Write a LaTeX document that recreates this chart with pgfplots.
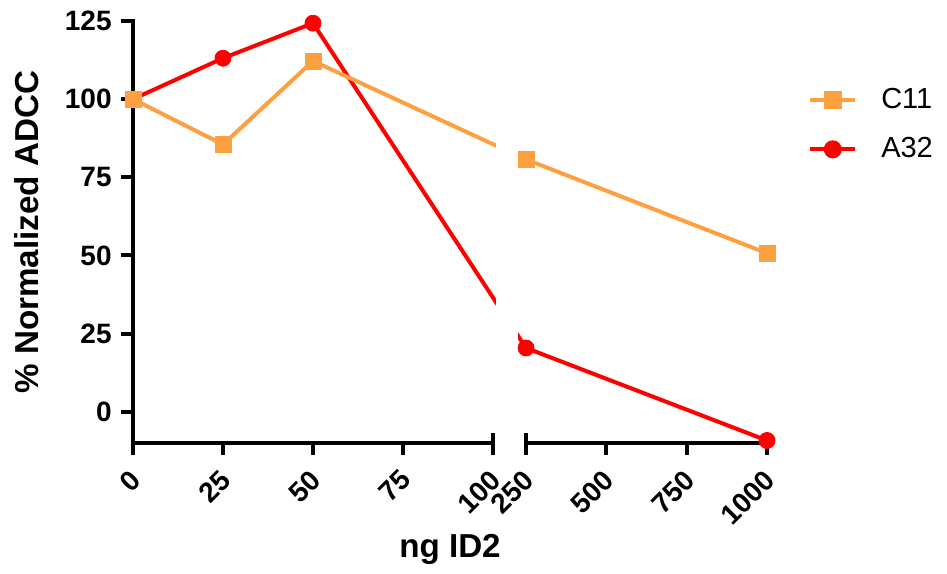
\documentclass[border=0pt]{standalone}
\usepackage{pgfplots}
\pgfplotsset{compat=1.18}
\usepackage{fontspec}
\setmainfont{Liberation Sans}
\definecolor{corange}{RGB}{255,160,64}
\definecolor{cred}{RGB}{255,0,0}
\begin{document}
\begin{tikzpicture}
\useasboundingbox (-66.5pt,-65pt) rectangle (407pt,221.5pt);
\begin{axis}[
  at={(0,0)}, anchor=south west,
  scale only axis, width=317pt, height=211pt,
  xmin=0, xmax=176.1, ymin=-10, ymax=125,
  clip=false,
  axis x line*=bottom, axis y line*=left,
  axis line style={draw=none},
  xtick={0,25,50,75,100,109.17,131.48,153.79,176.1},
  xticklabels={0,25,50,75,100,250,500,750,1000},
  ytick={0,25,50,75,100,125},
  tick align=outside,
  major tick length=6pt,
  tick style={line width=2pt, black},
  /pgf/number format/assume math mode=true,
  ticklabel style={font=\fontsize{14}{16}\selectfont\bfseries},
  xticklabel style={rotate=45, anchor=north east, inner xsep=6pt, inner ysep=3pt},
  yticklabel style={inner sep=4.5pt},
  xlabel={ng ID2},
  ylabel={\% Normalized ADCC},
  label style={font=\fontsize{16.6}{18}\selectfont\bfseries},
  xlabel style={at={(axis description cs:0.5,-0.251)}, anchor=center},
  ylabel style={at={(axis description cs:-0.168,0.5)}, anchor=center},
  legend style={draw=none, fill=none, at={(1.055,0.86)}, anchor=north west,
    font=\fontsize{14.5}{16}\selectfont, row sep=9pt, column sep=7pt,
    nodes={inner xsep=5pt}},
  legend cell align=left,
  legend image code/.code={\draw[mark repeat=2,mark phase=2] plot coordinates {(0pt,0pt) (11.25pt,0pt) (22.5pt,0pt)};},
]
% lines
\addplot[cred, line width=2pt, forget plot] coordinates {(0,100) (25,113.1) (50,124.3) (109.17,20.4) (176.1,-9.2)};
\addplot[corange, line width=2pt, forget plot] coordinates {(0,100) (25,85.5) (50,112.2) (109.17,80.7) (176.1,50.7)};
% break mask
\fill[white] (axis cs:100.9,-9) rectangle (axis cs:106.9,126);
% axis lines
\draw[line width=2pt, line cap=rect] (axis cs:0,125) -- (axis cs:0,-10) -- (axis cs:100,-10);
\draw[line width=2pt] (axis cs:100,-10) -- (axis cs:100,-6.8);
\draw[line width=2pt, line cap=rect] (axis cs:109.17,-10) -- (axis cs:176.1,-10);
\draw[line width=2pt] (axis cs:109.17,-10) -- (axis cs:109.17,-6.8);
% marks
\addplot[only marks, mark=*, mark size=4pt, cred, forget plot] coordinates {(0,100) (25,113.1) (50,124.3) (109.17,20.4) (176.1,-9.2)};
\addplot[only marks, mark=square*, mark size=4pt, corange, forget plot] coordinates {(0,100) (25,85.5) (50,112.2) (109.17,80.7) (176.1,50.7)};
\addlegendimage{corange, line width=2pt, mark=square*, mark size=3.5pt}
\addlegendentry{C11}
\addlegendimage{cred, line width=2pt, mark=*, mark size=3.5pt}
\addlegendentry{A32}
\end{axis}
\end{tikzpicture}
\end{document}
